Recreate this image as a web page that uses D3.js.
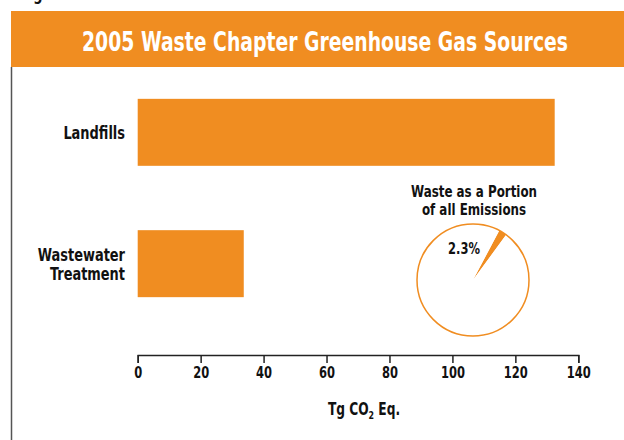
<!DOCTYPE html>
<html>
<head>
<meta charset="utf-8">
<script src="https://cdn.jsdelivr.net/npm/d3@7"></script>
<style>
  body { margin: 0; background: #fff; }
  svg { display: block; }
  text { font-family: "Liberation Sans Narrow", "Arial Narrow", "DejaVu Sans Condensed", sans-serif; font-weight: bold; font-stretch: condensed; }
</style>
</head>
<body>
<script>
// chart data
var categories = ["Landfills", "Wastewater Treatment"]
var categoryLines = [["Landfills"], ["Wastewater", "Treatment"]]
var values = [132.5, 33.7]
var xTicks = [0, 20, 40, 60, 80, 100, 120, 140]
var pieShares = [2.3, 97.7]
var pieLabel = "2.3%"
var pieTitle = ["Waste as a Portion", "of all Emissions"]
var chartTitle = "2005 Waste Chapter Greenhouse Gas Sources"

var WIDTH = 624, HEIGHT = 440
var orange = "#F08D21"
var SQ = 0.8   // horizontal squeeze, the original face is a condensed one

var svg = d3.select("body").append("svg")
  .attr("width", WIDTH)
  .attr("height", HEIGHT)

function place(x, y){
  return "translate(" + x + "," + y + ") scale(" + SQ + ",1)"
}

// cropped figure caption at the very top
svg.append("text")
  .attr("transform", place(20, 0))
  .attr("font-size", 18)
  .attr("fill", "#111")
  .text("Figure 8-1")

// header band
svg.append("rect")
  .attr("x", 11).attr("y", 11)
  .attr("width", WIDTH - 11).attr("height", 56)
  .attr("fill", orange)

svg.append("text")
  .attr("x", 325).attr("y", 51)
  .attr("text-anchor", "middle")
  .attr("font-size", 26)
  .attr("fill", "#fff")
  .attr("textLength", 486)
  .attr("lengthAdjust", "spacingAndGlyphs")
  .text(chartTitle)

// left frame line
svg.append("line")
  .attr("x1", 11.5).attr("x2", 11.5)
  .attr("y1", 67).attr("y2", HEIGHT)
  .attr("stroke", "#555").attr("stroke-width", 1.5)

var x = d3.scaleLinear().domain([0, 140]).range([137.7, 578.3])
var y = d3.scaleBand().domain(categories).range([66, 330])
  .paddingInner(0.49).paddingOuter(0.25)

// bars
svg.append("g").selectAll(".bar").data(values)
  .enter().append("rect")
  .classed("bar", true)
  .attr("x", x(0))
  .attr("y", function(d, i){ return y(categories[i]) })
  .attr("width", function(d){ return x(d) - x(0) })
  .attr("height", y.bandwidth())
  .attr("fill", orange)

// category labels, one text per line
categoryLines.forEach(function(lines, i){
  var mid = y(categories[i]) + y.bandwidth() / 2
  var first = mid + 6.5 - (lines.length - 1) * 9.5
  svg.append("g").selectAll("text").data(lines)
    .enter().append("text")
    .attr("text-anchor", "end")
    .attr("font-size", 18)
    .attr("fill", "#111")
    .attr("transform", function(d, j){ return place(125, first + j * 19) })
    .text(function(d){ return d })
})

// x axis
var xAxis = svg.append("g")
  .attr("transform", "translate(0,355)")
  .call(d3.axisBottom(x).tickValues(xTicks).tickSize(8).tickPadding(4).tickSizeOuter(8))
xAxis.select(".domain").attr("stroke", "#222").attr("stroke-width", 1.5)
xAxis.selectAll(".tick line").attr("stroke", "#222").attr("stroke-width", 1.5)
xAxis.selectAll(".tick text")
  .attr("font-size", 16)
  .attr("fill", "#111")
  .attr("transform", "scale(" + SQ + ",1)")
  .style("font-family", null)

var axisTitle = svg.append("text")
  .attr("transform", place(364, 415))
  .attr("text-anchor", "middle")
  .attr("font-size", 17)
  .attr("fill", "#111")
axisTitle.append("tspan").text("Tg CO")
axisTitle.append("tspan").attr("font-size", 11).attr("dy", 4).text("2")
axisTitle.append("tspan").attr("dy", -4).text(" Eq.")

// pie inset
var cx = 473, cy = 280, r = 56
var startA = 28 * Math.PI / 180
var pie = d3.pie().sort(null).startAngle(startA).endAngle(startA + 2 * Math.PI)
var arc = d3.arc().innerRadius(0).outerRadius(r)
var pg = svg.append("g").attr("transform", "translate(" + cx + "," + cy + ")")
pg.selectAll(".slice").data(pie(pieShares))
  .enter().append("path")
  .classed("slice", true)
  .attr("d", arc)
  .attr("fill", function(d, i){ return i === 0 ? orange : "#fff" })
pg.append("circle")
  .attr("r", r)
  .attr("fill", "none")
  .attr("stroke", orange)
  .attr("stroke-width", 1.5)

svg.append("text")
  .attr("transform", place(464, 254))
  .attr("text-anchor", "middle")
  .attr("font-size", 16)
  .attr("fill", "#111")
  .text(pieLabel)

svg.append("g").selectAll(".ptitle").data(pieTitle)
  .enter().append("text")
  .classed("ptitle", true)
  .attr("transform", function(d, i){ return place(474, 197 + i * 18) })
  .attr("text-anchor", "middle")
  .attr("font-size", 16.5)
  .attr("fill", "#111")
  .text(function(d){ return d })
</script>
</body>
</html>
